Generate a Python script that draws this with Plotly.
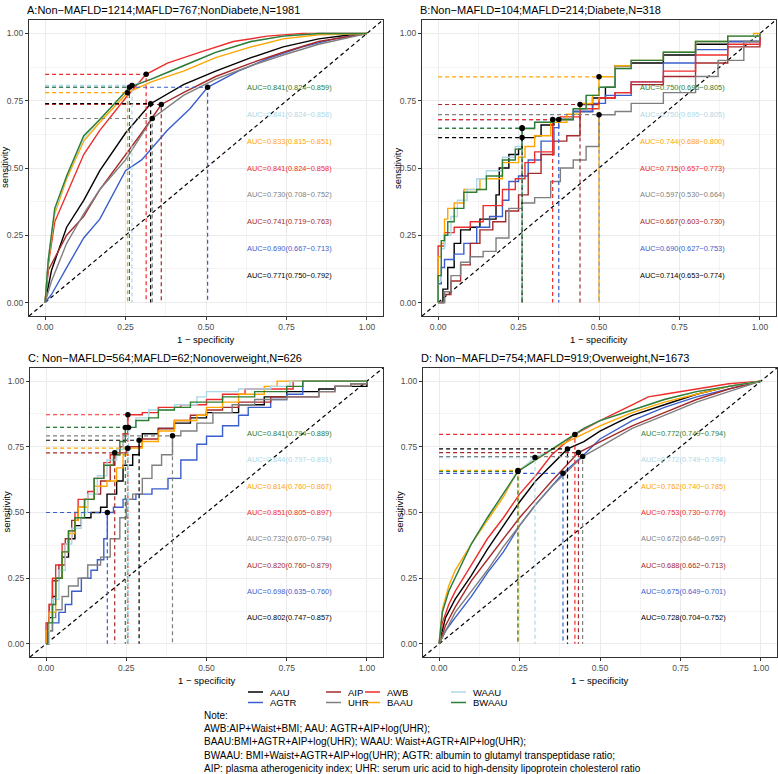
import plotly.graph_objects as go

W, H = 778, 774

models = ["AAU", "AGTR", "AIP", "UHR", "AWB", "BAAU", "WAAU", "BWAAU"]
colors = ["#000000", "#3A5FCD", "#A52A2A", "#7F7F7F", "#EE2C2C", "#FFA500", "#ADD8E6", "#2E7D32"]

titles = ["A:Non\u2212MAFLD=1214;MAFLD=767;NonDiabete,N=1981",
          "B:Non\u2212MAFLD=104;MAFLD=214;Diabete,N=318",
          "C: Non\u2212MAFLD=564;MAFLD=62;Nonoverweight,N=626",
          "D: Non\u2212MAFLD=754;MAFLD=919;Overweight,N=1673"]

# ROC curves: model -> (1 - specificity, sensitivity)
roc_A = {
    "AAU": ([0, 0.02, 0.067, 0.12, 0.17, 0.25, 0.328, 0.43, 0.53, 0.64, 0.74, 0.85, 0.95, 1],
            [0, 0.12, 0.28, 0.38, 0.49, 0.63, 0.739, 0.81, 0.86, 0.91, 0.95, 0.98, 0.995, 1]),
    "AGTR": ([0, 0.02, 0.067, 0.12, 0.17, 0.25, 0.30, 0.38, 0.45, 0.505, 0.6, 0.7, 0.8, 0.9, 1],
             [0, 0.03, 0.13, 0.24, 0.31, 0.49, 0.53, 0.64, 0.72, 0.80, 0.86, 0.91, 0.95, 0.98, 1]),
    "AIP": ([0, 0.01, 0.067, 0.12, 0.17, 0.25, 0.30, 0.361, 0.43, 0.53, 0.64, 0.74, 0.85, 1],
            [0, 0.12, 0.25, 0.32, 0.42, 0.55, 0.63, 0.736, 0.78, 0.84, 0.89, 0.93, 0.97, 1]),
    "UHR": ([0, 0.02, 0.067, 0.12, 0.17, 0.25, 0.333, 0.43, 0.53, 0.64, 0.74, 0.85, 1],
            [0, 0.08, 0.22, 0.33, 0.42, 0.53, 0.684, 0.77, 0.83, 0.88, 0.92, 0.96, 1]),
    "AWB": ([0, 0.01, 0.03, 0.067, 0.12, 0.17, 0.25, 0.314, 0.38, 0.48, 0.585, 0.69, 0.8, 1],
            [0, 0.14, 0.30, 0.40, 0.55, 0.64, 0.76, 0.848, 0.89, 0.93, 0.97, 0.99, 1, 1]),
    "BAAU": ([0, 0.01, 0.03, 0.067, 0.12, 0.17, 0.256, 0.33, 0.43, 0.53, 0.64, 0.74, 0.85, 1],
             [0, 0.15, 0.33, 0.46, 0.60, 0.67, 0.78, 0.82, 0.86, 0.91, 0.95, 0.98, 0.995, 1]),
    "WAAU": ([0, 0.01, 0.03, 0.067, 0.12, 0.17, 0.27, 0.33, 0.43, 0.53, 0.64, 0.74, 0.85, 1],
             [0, 0.16, 0.34, 0.47, 0.61, 0.68, 0.807, 0.83, 0.88, 0.93, 0.97, 0.99, 1, 1]),
    "BWAAU": ([0, 0.01, 0.03, 0.067, 0.12, 0.17, 0.262, 0.33, 0.43, 0.53, 0.64, 0.74, 0.85, 1],
              [0, 0.16, 0.35, 0.47, 0.62, 0.68, 0.80, 0.83, 0.88, 0.93, 0.97, 0.99, 1, 1]),
}
roc_B = {
    "AAU": ([0, 0.015, 0.03, 0.05, 0.07, 0.10, 0.13, 0.18, 0.19, 0.22, 0.25, 0.261, 0.30, 0.32, 0.36, 0.42, 0.48, 0.52, 0.55, 0.6, 0.7, 0.8, 0.9, 1],
            [0, 0.05, 0.13, 0.22, 0.27, 0.28, 0.31, 0.40, 0.50, 0.55, 0.57, 0.613, 0.62, 0.66, 0.68, 0.71, 0.76, 0.80, 0.88, 0.89, 0.92, 0.96, 0.97, 1]),
    "AGTR": ([0, 0, 0.01, 0.02, 0.05, 0.08, 0.12, 0.16, 0.2, 0.22, 0.25, 0.28, 0.32, 0.36, 0.375, 0.42, 0.48, 0.52, 0.6, 0.7, 0.8, 0.9, 1],
             [0, 0.07, 0.13, 0.16, 0.18, 0.22, 0.28, 0.32, 0.38, 0.45, 0.47, 0.53, 0.60, 0.65, 0.68, 0.71, 0.74, 0.77, 0.82, 0.89, 0.94, 0.97, 1]),
    "AIP": ([0, 0.02, 0.04, 0.07, 0.1, 0.13, 0.17, 0.21, 0.25, 0.28, 0.32, 0.36, 0.40, 0.441, 0.5, 0.55, 0.6, 0.7, 0.8, 0.9, 1],
            [0, 0.03, 0.08, 0.14, 0.22, 0.27, 0.30, 0.34, 0.40, 0.48, 0.55, 0.60, 0.62, 0.736, 0.76, 0.78, 0.81, 0.84, 0.89, 0.95, 1]),
    "UHR": ([0, 0.02, 0.04, 0.07, 0.1, 0.14, 0.18, 0.22, 0.26, 0.3, 0.35, 0.38, 0.42, 0.46, 0.5, 0.5, 0.55, 0.6, 0.7, 0.8, 0.87, 0.95, 1],
            [0, 0.04, 0.10, 0.15, 0.17, 0.19, 0.24, 0.35, 0.37, 0.39, 0.45, 0.50, 0.53, 0.58, 0.64, 0.698, 0.71, 0.74, 0.78, 0.84, 0.90, 0.97, 1]),
    "AWB": ([0, 0, 0.01, 0.02, 0.05, 0.1, 0.14, 0.2, 0.24, 0.27, 0.3, 0.356, 0.38, 0.44, 0.5, 0.55, 0.6, 0.7, 0.8, 0.9, 1],
            [0, 0.21, 0.21, 0.26, 0.28, 0.30, 0.36, 0.42, 0.46, 0.52, 0.56, 0.68, 0.69, 0.72, 0.76, 0.78, 0.82, 0.86, 0.92, 0.96, 1]),
    "BAAU": ([0, 0, 0.01, 0.02, 0.03, 0.05, 0.08, 0.13, 0.2, 0.25, 0.27, 0.3, 0.35, 0.40, 0.44, 0.48, 0.50, 0.55, 0.6, 0.7, 0.8, 0.9, 0.98, 1],
             [0, 0.17, 0.22, 0.31, 0.35, 0.37, 0.42, 0.46, 0.52, 0.54, 0.58, 0.62, 0.67, 0.70, 0.74, 0.77, 0.839, 0.88, 0.90, 0.93, 0.97, 0.99, 1, 1]),
    "WAAU": ([0, 0, 0.01, 0.02, 0.04, 0.06, 0.09, 0.12, 0.15, 0.2, 0.24, 0.261, 0.30, 0.36, 0.42, 0.46, 0.5, 0.55, 0.6, 0.7, 0.8, 0.9, 1],
             [0, 0.08, 0.20, 0.25, 0.32, 0.38, 0.42, 0.46, 0.49, 0.54, 0.58, 0.65, 0.67, 0.68, 0.72, 0.77, 0.80, 0.87, 0.90, 0.93, 0.97, 0.99, 1]),
    "BWAAU": ([0, 0, 0.01, 0.02, 0.03, 0.05, 0.08, 0.12, 0.15, 0.2, 0.24, 0.261, 0.30, 0.36, 0.42, 0.46, 0.5, 0.55, 0.6, 0.7, 0.8, 0.9, 1],
              [0, 0.10, 0.23, 0.25, 0.30, 0.35, 0.41, 0.42, 0.47, 0.53, 0.57, 0.647, 0.67, 0.68, 0.72, 0.77, 0.80, 0.87, 0.90, 0.93, 0.97, 0.99, 1]),
}
roc_C = {
    "AAU": ([0, 0.01, 0.02, 0.03, 0.05, 0.07, 0.09, 0.11, 0.14, 0.17, 0.19, 0.22, 0.24, 0.27, 0.29, 0.3, 0.35, 0.4, 0.45, 0.5, 0.6, 0.68, 0.75, 0.85, 0.9, 1],
            [0, 0.10, 0.18, 0.25, 0.33, 0.40, 0.45, 0.48, 0.50, 0.52, 0.57, 0.62, 0.68, 0.72, 0.775, 0.80, 0.82, 0.84, 0.86, 0.88, 0.91, 0.94, 0.96, 0.97, 0.98, 1]),
    "AGTR": ([0, 0.01, 0.02, 0.04, 0.06, 0.08, 0.11, 0.14, 0.16, 0.18, 0.191, 0.21, 0.24, 0.28, 0.33, 0.38, 0.42, 0.47, 0.5, 0.55, 0.6, 0.63, 0.7, 0.75, 0.8, 0.8, 1],
             [0, 0.05, 0.08, 0.12, 0.15, 0.20, 0.25, 0.28, 0.32, 0.40, 0.50, 0.52, 0.55, 0.57, 0.59, 0.63, 0.70, 0.76, 0.79, 0.83, 0.87, 0.90, 0.93, 0.95, 0.98, 1, 1]),
    "AIP": ([0, 0.01, 0.02, 0.04, 0.06, 0.08, 0.1, 0.12, 0.15, 0.17, 0.2, 0.214, 0.25, 0.3, 0.35, 0.4, 0.45, 0.5, 0.55, 0.6, 0.7, 0.85, 0.9, 0.95, 1],
            [0, 0.15, 0.24, 0.30, 0.40, 0.47, 0.52, 0.55, 0.57, 0.62, 0.68, 0.727, 0.75, 0.78, 0.82, 0.85, 0.87, 0.89, 0.90, 0.92, 0.94, 0.96, 0.98, 0.99, 1]),
    "UHR": ([0, 0.01, 0.02, 0.03, 0.05, 0.07, 0.1, 0.13, 0.17, 0.2, 0.23, 0.25, 0.27, 0.3, 0.33, 0.36, 0.394, 0.42, 0.47, 0.52, 0.58, 0.65, 0.75, 0.85, 0.9, 0.95, 1],
            [0, 0.05, 0.10, 0.13, 0.18, 0.22, 0.25, 0.30, 0.33, 0.40, 0.48, 0.55, 0.57, 0.63, 0.68, 0.72, 0.792, 0.81, 0.84, 0.88, 0.91, 0.93, 0.94, 0.96, 0.98, 0.99, 1]),
    "AWB": ([0, 0, 0.01, 0.02, 0.03, 0.05, 0.07, 0.09, 0.1, 0.13, 0.15, 0.18, 0.2, 0.23, 0.24, 0.255, 0.3, 0.35, 0.42, 0.5, 0.55, 0.62, 0.75, 0.77, 1],
            [0, 0.08, 0.15, 0.25, 0.30, 0.38, 0.43, 0.50, 0.55, 0.58, 0.63, 0.69, 0.72, 0.75, 0.80, 0.872, 0.88, 0.90, 0.91, 0.93, 0.95, 0.97, 0.97, 1, 1]),
    "BAAU": ([0, 0, 0.01, 0.03, 0.05, 0.07, 0.09, 0.1, 0.13, 0.15, 0.19, 0.22, 0.24, 0.255, 0.3, 0.35, 0.4, 0.47, 0.5, 0.55, 0.6, 0.68, 0.72, 1],
             [0, 0.05, 0.12, 0.25, 0.35, 0.42, 0.47, 0.52, 0.55, 0.60, 0.62, 0.67, 0.72, 0.745, 0.77, 0.81, 0.85, 0.87, 0.90, 0.92, 0.95, 0.98, 1, 1]),
    "WAAU": ([0, 0.01, 0.02, 0.04, 0.06, 0.08, 0.11, 0.13, 0.16, 0.19, 0.22, 0.24, 0.257, 0.28, 0.32, 0.4, 0.47, 0.5, 0.6, 0.7, 0.76, 1],
             [0, 0.08, 0.17, 0.28, 0.38, 0.44, 0.50, 0.57, 0.64, 0.70, 0.74, 0.79, 0.824, 0.86, 0.89, 0.91, 0.94, 0.96, 0.97, 0.98, 1, 1]),
    "BWAAU": ([0, 0.005, 0.02, 0.03, 0.05, 0.07, 0.09, 0.12, 0.15, 0.18, 0.21, 0.23, 0.247, 0.28, 0.32, 0.35, 0.4, 0.45, 0.55, 0.65, 0.75, 0.8, 1],
              [0, 0.08, 0.15, 0.25, 0.35, 0.43, 0.48, 0.55, 0.63, 0.68, 0.72, 0.77, 0.824, 0.85, 0.86, 0.89, 0.90, 0.92, 0.94, 0.96, 0.98, 1, 1]),
}
roc_D = {
    "AAU": ([0, 0.02, 0.05, 0.1, 0.15, 0.2, 0.25, 0.3, 0.35, 0.399, 0.45, 0.5, 0.55, 0.6, 0.7, 0.8, 0.9, 1],
            [0, 0.10, 0.17, 0.26, 0.36, 0.45, 0.54, 0.62, 0.68, 0.742, 0.77, 0.81, 0.84, 0.87, 0.91, 0.95, 0.98, 1]),
    "AGTR": ([0, 0.02, 0.05, 0.1, 0.15, 0.2, 0.25, 0.3, 0.35, 0.385, 0.45, 0.5, 0.6, 0.7, 0.8, 0.9, 1],
             [0, 0.05, 0.10, 0.18, 0.27, 0.35, 0.45, 0.53, 0.60, 0.649, 0.72, 0.78, 0.85, 0.90, 0.94, 0.97, 1]),
    "AIP": ([0, 0.02, 0.05, 0.1, 0.15, 0.2, 0.25, 0.3, 0.35, 0.433, 0.5, 0.6, 0.7, 0.8, 0.9, 1],
            [0, 0.07, 0.14, 0.24, 0.32, 0.40, 0.48, 0.55, 0.62, 0.728, 0.77, 0.83, 0.88, 0.93, 0.97, 1]),
    "UHR": ([0, 0.02, 0.05, 0.1, 0.15, 0.2, 0.25, 0.3, 0.35, 0.446, 0.5, 0.6, 0.7, 0.8, 0.9, 1],
            [0, 0.05, 0.12, 0.20, 0.28, 0.37, 0.45, 0.53, 0.60, 0.713, 0.75, 0.82, 0.87, 0.92, 0.96, 1]),
    "AWB": ([0, 0.01, 0.03, 0.05, 0.1, 0.15, 0.2, 0.25, 0.3, 0.35, 0.422, 0.5, 0.6, 0.65, 0.7, 0.8, 0.9, 1],
            [0, 0.08, 0.15, 0.20, 0.30, 0.40, 0.48, 0.57, 0.64, 0.72, 0.797, 0.85, 0.91, 0.94, 0.95, 0.97, 0.99, 1]),
    "BAAU": ([0, 0.01, 0.03, 0.05, 0.08, 0.1, 0.15, 0.2, 0.245, 0.3, 0.35, 0.4, 0.45, 0.5, 0.6, 0.7, 0.8, 0.9, 1],
             [0, 0.13, 0.22, 0.28, 0.34, 0.38, 0.47, 0.56, 0.66, 0.70, 0.74, 0.77, 0.80, 0.83, 0.88, 0.92, 0.95, 0.98, 1]),
    "WAAU": ([0, 0.01, 0.03, 0.05, 0.08, 0.1, 0.15, 0.2, 0.245, 0.298, 0.35, 0.4, 0.45, 0.5, 0.6, 0.7, 0.8, 0.9, 1],
             [0, 0.12, 0.20, 0.25, 0.33, 0.38, 0.48, 0.57, 0.655, 0.709, 0.74, 0.78, 0.82, 0.85, 0.89, 0.93, 0.96, 0.98, 1]),
    "BWAAU": ([0, 0.01, 0.03, 0.05, 0.08, 0.1, 0.15, 0.2, 0.245, 0.3, 0.35, 0.4, 0.45, 0.5, 0.6, 0.7, 0.8, 0.9, 1],
              [0, 0.12, 0.20, 0.25, 0.33, 0.38, 0.48, 0.57, 0.656, 0.70, 0.74, 0.78, 0.82, 0.85, 0.89, 0.93, 0.96, 0.98, 1]),
}

# best cut-off points (1 - specificity, sensitivity), in model order
cut_A = [(0.328, 0.739), (0.505, 0.80), (0.361, 0.736), (0.333, 0.684), (0.314, 0.848), (0.256, 0.78), (0.27, 0.807), (0.262, 0.80)]
cut_B = [(0.261, 0.613), (0.375, 0.68), (0.441, 0.736), (0.50, 0.698), (0.356, 0.68), (0.50, 0.839), (0.261, 0.65), (0.261, 0.647)]
cut_C = [(0.29, 0.775), (0.191, 0.50), (0.214, 0.727), (0.394, 0.792), (0.255, 0.872), (0.255, 0.745), (0.257, 0.824), (0.247, 0.824)]
cut_D = [(0.399, 0.742), (0.385, 0.649), (0.433, 0.728), (0.446, 0.713), (0.422, 0.797), (0.245, 0.66), (0.298, 0.709), (0.245, 0.656)]

# AUC (95% CI), in model order
auc_A = ["0.771(0.750\u22120.792)", "0.690(0.667\u22120.713)", "0.741(0.719\u22120.763)", "0.730(0.708\u22120.752)",
         "0.841(0.824\u22120.858)", "0.833(0.815\u22120.851)", "0.841(0.824\u22120.858)", "0.841(0.824\u22120.859)"]
auc_B = ["0.714(0.653\u22120.774)", "0.690(0.627\u22120.753)", "0.667(0.603\u22120.730)", "0.597(0.530\u22120.664)",
         "0.715(0.657\u22120.773)", "0.744(0.688\u22120.800)", "0.750(0.695\u22120.805)", "0.750(0.695\u22120.805)"]
auc_C = ["0.802(0.747\u22120.857)", "0.698(0.635\u22120.760)", "0.820(0.760\u22120.879)", "0.732(0.670\u22120.794)",
         "0.851(0.805\u22120.897)", "0.814(0.760\u22120.867)", "0.844(0.797\u22120.891)", "0.841(0.794\u22120.889)"]
auc_D = ["0.728(0.704\u22120.752)", "0.675(0.649\u22120.701)", "0.688(0.662\u22120.713)", "0.672(0.646\u22120.697)",
         "0.753(0.730\u22120.776)", "0.762(0.740\u22120.785)", "0.772(0.749\u22120.794)", "0.772(0.749\u22120.794)"]

note_lines = ["Note:",
              "AWB:AIP+Waist+BMI; AAU: AGTR+AIP+log(UHR);",
              "BAAU:BMI+AGTR+AIP+log(UHR); WAAU: Waist+AGTR+AIP+log(UHR);",
              "BWAAU: BMI+Waist+AGTR+AIP+log(UHR); AGTR: albumin to glutamyl transpeptidase ratio;",
              "AIP: plasma atherogenicity index; UHR: serum uric acid to high-density lipoprotein cholesterol ratio"]

FONT = "Liberation Sans, Arial, sans-serif"


def fx(p):
    return p / W


def fy(p):
    return 1 - p / H


# panel boxes in pixels: (left, right, top, bottom)
boxes = [(29, 383, 20, 316), (422, 776, 20, 316), (30, 383, 368, 657), (423, 777, 368, 657)]
rocs = [roc_A, roc_B, roc_C, roc_D]
cuts = [cut_A, cut_B, cut_C, cut_D]
aucs = [auc_A, auc_B, auc_C, auc_D]
shapes_step = ["linear", "hv", "hv", "linear"]

fig = go.Figure()
annotations = []
layout = {}

for k in range(4):
    sfx = "" if k == 0 else str(k + 1)
    xa, ya = "x" + sfx, "y" + sfx
    l, r, t, b = boxes[k]
    axis_common = dict(range=[-0.05, 1.05], tickvals=[0, 0.25, 0.5, 0.75, 1], tickformat=".2f",
                       showgrid=True, gridcolor="#EBEBEB", gridwidth=1,
                       minor=dict(dtick=0.125, tick0=0.125, showgrid=True, gridcolor="#F4F4F4", gridwidth=0.6),
                       showline=True, mirror=True, linecolor="#333333", linewidth=1,
                       ticks="outside", ticklen=3, tickcolor="#333333", tickwidth=0.8,
                       tickfont=dict(family=FONT, size=8.5, color="#4D4D4D"),
                       zeroline=False, fixedrange=True, automargin=False)
    layout["xaxis" + sfx] = dict(axis_common, domain=[fx(l), fx(r)], anchor=ya)
    layout["yaxis" + sfx] = dict(axis_common, domain=[fy(b), fy(t)], anchor=xa)

    # diagonal reference
    fig.add_trace(go.Scatter(x=[-0.05, 1.05], y=[-0.05, 1.05], mode="lines", xaxis=xa, yaxis=ya,
                             line=dict(color="black", width=1.2, dash="4px,3px"), showlegend=False))
    roc = rocs[k]
    for i, m in enumerate(models):
        fpr, tpr = roc[m]
        fig.add_trace(go.Scatter(x=fpr, y=tpr, mode="lines", xaxis=xa, yaxis=ya,
                                 line=dict(color=colors[i], width=1.4, shape=shapes_step[k]),
                                 showlegend=False))
    for i, m in enumerate(models):
        cx, cy = cuts[k][i]
        fig.add_trace(go.Scatter(x=[0, cx, cx], y=[cy, cy, 0], mode="lines", xaxis=xa, yaxis=ya,
                                 line=dict(color=colors[i], width=1.2, dash="4px,3px"), showlegend=False))
    fig.add_trace(go.Scatter(x=[c[0] for c in cuts[k]], y=[c[1] for c in cuts[k]], mode="markers",
                             xaxis=xa, yaxis=ya, marker=dict(color="black", size=5.5), showlegend=False))

    for i, m in enumerate(models):
        annotations.append(dict(x=0.62, y=0.1 * (i + 1), xref=xa, yref=ya, text="AUC=" + aucs[k][i],
                                showarrow=False, xanchor="left", yanchor="middle",
                                font=dict(family=FONT, size=7.4, color=colors[i])))

    # panel title, axis titles
    annotations.append(dict(x=fx(l - 4), y=fy(t - 10), xref="paper", yref="paper", text=titles[k],
                            showarrow=False, xanchor="left", yanchor="middle",
                            font=dict(family=FONT, size=11, color="black")))
    annotations.append(dict(x=fx((l + r) / 2), y=fy(b + 23), xref="paper", yref="paper",
                            text="1 \u2212 specificity", showarrow=False, xanchor="center", yanchor="middle",
                            font=dict(family=FONT, size=9.5, color="black")))
    annotations.append(dict(x=fx(l - 24), y=fy((t + b) / 2), xref="paper", yref="paper",
                            text="sensitivity", textangle=-90, showarrow=False,
                            xanchor="center", yanchor="middle",
                            font=dict(family=FONT, size=9.5, color="black")))

# legend built from key lines and labels
leg_cols = [248, 326, 365, 451]
leg_rows = [692, 702.5]
shapes = []
for i, m in enumerate(models):
    c, rr = divmod(i, 2)
    x0 = leg_cols[c]
    yy = leg_rows[rr]
    shapes.append(dict(type="line", xref="paper", yref="paper", x0=fx(x0), x1=fx(x0 + 15),
                       y0=fy(yy), y1=fy(yy), line=dict(color=colors[i], width=1.5)))
    annotations.append(dict(x=fx(x0 + 21), y=fy(yy), xref="paper", yref="paper", text=m,
                            showarrow=False, xanchor="left", yanchor="middle", borderpad=0,
                            font=dict(family=FONT, size=9.5, color="black")))

for j, line in enumerate(note_lines):
    annotations.append(dict(x=fx(202), y=fy(715 + 13.4 * j), xref="paper", yref="paper", text=line,
                            showarrow=False, xanchor="left", yanchor="middle",
                            font=dict(family=FONT, size=10, color="black")))

fig.update_layout(width=W, height=H, margin=dict(l=0, r=0, t=0, b=0, autoexpand=False),
                  paper_bgcolor="white", plot_bgcolor="white",
                  annotations=annotations, shapes=shapes, **layout)

# drop the page's default body margin so the figure sits at the window's corner
fig.write_html("out.html", config={"displayModeBar": False},
               post_script="document.body.style.margin='0';")
